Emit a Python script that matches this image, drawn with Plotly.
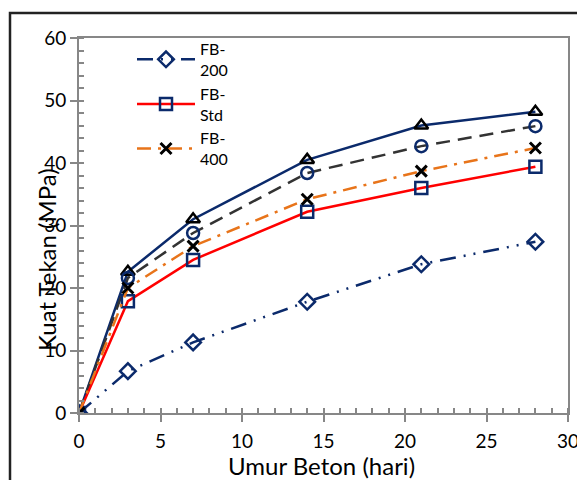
import plotly.graph_objects as go

days = [0, 3, 7, 14, 21, 28]
fb200 = [0, 6.7, 11.3, 17.8, 23.8, 27.4]
fbstd = [0, 17.9, 24.5, 32.2, 36.0, 39.4]
fb400 = [0, 20.0, 26.7, 34.2, 38.7, 42.4]
fb_s4 = [0, 21.6, 28.8, 38.4, 42.7, 45.9]
fb_s5 = [0, 22.6, 31.0, 40.5, 46.0, 48.2]

names = ["FB-<br>200", "FB-<br>Std", "FB-<br>400", "FB-600", "FB-800"]

NAVY = "#0B2A6B"
FONT = "Lato, 'Open Sans', sans-serif"

fig = go.Figure()

fig.add_trace(go.Scatter(
    x=days, y=fb_s5, name=names[4], showlegend=False, mode="lines+markers",
    line=dict(color=NAVY, width=2.5),
    marker=dict(symbol="triangle-up-open", size=12, color="black", line=dict(width=2.5, color="black"))))
fig.add_trace(go.Scatter(
    x=days, y=fb_s4, name=names[3], showlegend=False, mode="lines+markers",
    line=dict(color="#333333", width=2.5, dash="14px,8px"),
    marker=dict(symbol="circle-open", size=12, color=NAVY, line=dict(width=2.5, color=NAVY))))
fig.add_trace(go.Scatter(
    x=days, y=fb200, name=names[0], mode="lines+markers",
    line=dict(color=NAVY, width=2.5, dash="16px,8px,2px,8px,2px,8px"),
    marker=dict(symbol="diamond-open", size=12, color=NAVY, line=dict(width=2.5, color=NAVY))))
fig.add_trace(go.Scatter(
    x=days, y=fbstd, name=names[1], mode="lines+markers",
    line=dict(color="#FF0000", width=2.5),
    marker=dict(symbol="square-open", size=12, color=NAVY, line=dict(width=2.5, color=NAVY))))
fig.add_trace(go.Scatter(
    x=days, y=fb400, name=names[2], mode="lines+markers",
    line=dict(color="#E8741A", width=2.5, dash="14px,7px,3px,7px"),
    marker=dict(symbol="x-thin-open", size=11, color="black", line=dict(width=3, color="black"))))

axis_common = dict(
    showgrid=False, zeroline=False, showline=True, linecolor="#878787", linewidth=2,
    mirror=True, ticks="outside", ticklen=7, tickwidth=1.5, tickcolor="#878787",
    tickfont=dict(family=FONT, size=19, color="black"), automargin=False,
)

fig.update_xaxes(range=[0, 30], dtick=5, tick0=0, ticklabelstandoff=3,
                 minor=dict(dtick=1, ticks="inside", ticklen=5, tickcolor="#878787", tickwidth=1.5),
                 **axis_common)
fig.update_yaxes(range=[0, 60], dtick=10, tick0=0,
                 minor=dict(dtick=2, ticks="inside", ticklen=5, tickcolor="#878787", tickwidth=1.5),
                 **axis_common)

fig.add_annotation(text="Umur Beton (hari)", xref="paper", yref="paper",
                   x=(321 - 79) / 489, y=(413 - 465) / 375, showarrow=False,
                   xanchor="center", yanchor="middle",
                   font=dict(family=FONT, size=24, color="black"))
fig.add_annotation(text="Kuat Tekan (MPa)", textangle=-90, xref="paper", yref="paper",
                   x=(46 - 79) / 489, y=(413 - 260) / 375, showarrow=False,
                   xanchor="center", yanchor="middle",
                   font=dict(family=FONT, size=24, color="black"))

fig.add_shape(type="rect", xref="paper", yref="paper",
              x0=(10 - 79) / 489, x1=1.2, y0=-0.5, y1=(413 - 13) / 375,
              line=dict(color="#222222", width=2.5), layer="below")

# page body has an 8px margin, so the figure is shifted by (8, 8)
fig.update_layout(
    width=585, height=480,
    margin=dict(l=71, r=25, t=30, b=75),
    paper_bgcolor="white", plot_bgcolor="white",
    showlegend=True,
    legend=dict(x=(132 - 79) / 489, y=(413 - 32) / 375, xanchor="left", yanchor="top",
                bgcolor="rgba(0,0,0,0)", font=dict(family=FONT, size=16, color="black"),
                itemwidth=58, tracegroupgap=0),
)

fig.write_html("out.html")
